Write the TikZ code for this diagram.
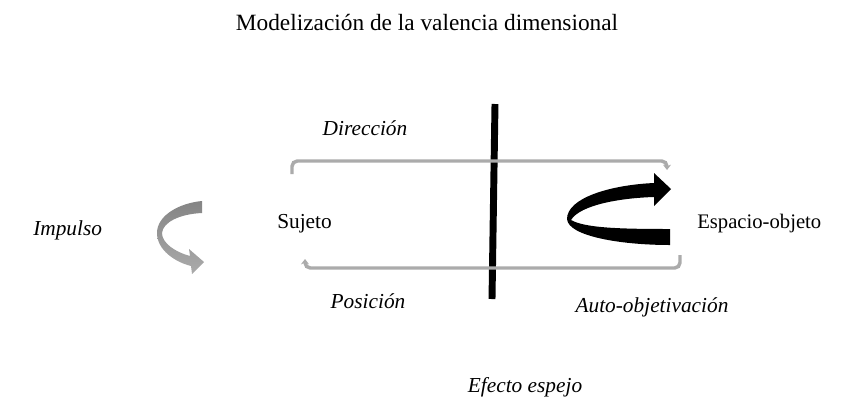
\documentclass[tikz,border=0pt]{standalone}
\usepackage{fontspec}
\setmainfont{Liberation Serif}
\usetikzlibrary{arrows.meta}

\tikzset{
    label/.style={anchor=base, font=\fontsize{16}{19}\selectfont, inner sep=0pt},
    italiclabel/.style={label, font=\fontsize{16}{19}\selectfont\itshape},
    bracket/.style={draw=black!33, line width=2.6pt, rounded corners=4pt, -{Stealth[length=4pt, width=6pt]}},
}

\begin{document}
\begin{tikzpicture}[x=0.75pt, y=-0.75pt]
    \useasboundingbox (0,0) rectangle (852,419);

    % Title
    \node[anchor=base, font=\fontsize{17.5}{21}\selectfont] (title) at (427,30) {Modelización de la valencia dimensional};

    % Labels
    \node[label, anchor=base west] (sujeto) at (277,228) {Sujeto};
    \node[label, anchor=base west, font=\fontsize{15.5}{19}\selectfont] (espacio) at (697,228) {Espacio-objeto};
    \node[italiclabel, anchor=base west] (impulso) at (33,235) {Impulso};
    \node[italiclabel] (direccion) at (365,135) {Dirección};
    \node[italiclabel] (posicion) at (368,308) {Posición};
    \node[italiclabel] (auto) at (652,312) {Auto-objetivación};
    \node[italiclabel] (espejo) at (525,392) {Efecto espejo};

    % Mirror line
    \coordinate (mirrortop) at (495,104);
    \coordinate (mirrorbot) at (492,299);
    \draw[line width=5.2pt] (mirrortop) -- (mirrorbot);

    % Brackets between Sujeto and Espacio-objeto
    \coordinate (dirstart) at (292,174);
    \coordinate (dirend) at (667,170);
    \coordinate (posstart) at (680,255);
    \coordinate (posend) at (305,259);
    \draw[bracket] (dirstart) |- (604,161) -| (dirend);
    \draw[bracket] (posstart) |- (400,268) -| (posend);

    % Impulso arrow (gray ribbon)
    \shade[top color=black!48, bottom color=black!33] (202,201) .. controls (180,203) and (157,215) .. (157,233)
        .. controls (157,250) and (175,262) .. (191,266) -- (192,274) -- (204,262)
        -- (189,249) -- (190,256) .. controls (175,252) and (162,243) .. (162,233)
        .. controls (163,222) and (180,214) .. (202,213) -- cycle;

    % Auto-objetivacion arrow (black ribbon)
    \fill[black] (654,183) .. controls (610,185) and (567,198) .. (567,219)
        .. controls (568,236) and (620,245) .. (670,245) -- (670,229)
        .. controls (620,229) and (585,228) .. (571,220)
        .. controls (580,205) and (620,198) .. (654,197) -- (654,206)
        -- (671,189) -- (654,173) -- cycle;
\end{tikzpicture}
\end{document}
